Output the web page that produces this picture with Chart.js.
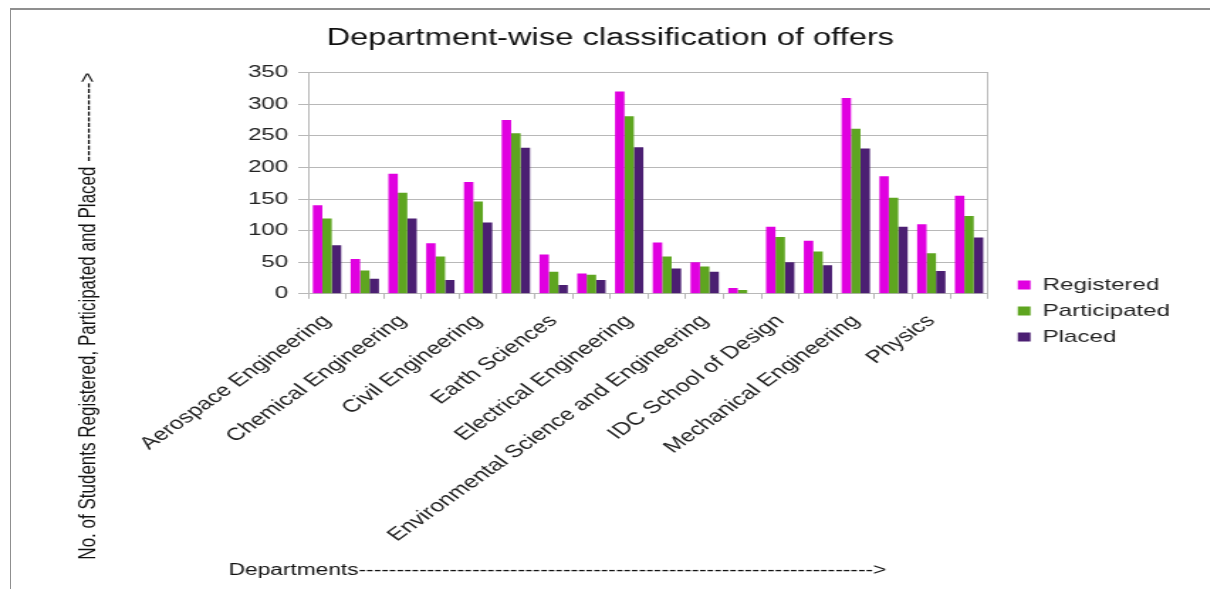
<!DOCTYPE html>
<html>
<head>
<meta charset="utf-8">
<title>Department-wise classification of offers</title>
<script src="https://cdn.jsdelivr.net/npm/chart.js@4.4.1/dist/chart.umd.min.js"></script>
<style>
  html, body { margin: 0; padding: 0; background: #fff; overflow: hidden; }
  #wrap { position: relative; width: 1210px; height: 589px; }
  /* the reference is a horizontally stretched screenshot, so the canvas is stretched too */
  #chart { position: absolute; left: 0; top: 0; transform: scaleX(1.42); transform-origin: 0 0; }
  #frame { position: absolute; left: 10px; top: 8px; right: 0; bottom: 0;
           border-top: 2px solid #8f8f8f; border-left: 1px solid #8f8f8f; pointer-events: none; }
</style>
</head>
<body>
<div id="wrap">
  <canvas id="chart" width="852" height="589"></canvas>
  <div id="frame"></div>
</div>
<script>
// data
const departments = [
  'Aerospace Engineering',
  'Biosciences and Bioengineering',
  'Chemical Engineering',
  'Chemistry',
  'Civil Engineering',
  'Computer Science and Engineering',
  'Earth Sciences',
  'Educational Technology',
  'Electrical Engineering',
  'Energy Science and Engineering',
  'Environmental Science and Engineering',
  'Humanities and Social Sciences',
  'IDC School of Design',
  'Industrial Engineering and Operations Research',
  'Mechanical Engineering',
  'Metallurgical Engineering and Materials Science',
  'Physics',
  'Systems and Control Engineering'
];
const registered   = [140, 55, 190, 80, 177, 275, 62, 32, 320, 81, 50, 9, 106, 84, 310, 186, 110, 155];
const participated = [119, 37, 160, 59, 146, 254, 35, 30, 281, 59, 43, 6, 90, 67, 261, 152, 64, 123];
const placed       = [77, 24, 119, 22, 113, 231, 14, 22, 232, 40, 35, 0, 50, 45, 230, 106, 36, 89];
const yTickValues  = [0, 50, 100, 150, 200, 250, 300, 350];

const chartTitle = '    Department-wise classification of offers';
const xTitle = 'Departments' + '-'.repeat(68) + '>' + ' '.repeat(11);
const yTitle = 'No. of Students Registered, Participated and Placed ' + '-'.repeat(14) + '>';

const gridGray = '#b8b8b8';

Chart.defaults.font.family = '"Liberation Sans", Arial, sans-serif';
Chart.defaults.color = '#222';

const ctx = document.getElementById('chart').getContext('2d');
new Chart(ctx, {
  type: 'bar',
  data: {
    labels: departments,
    datasets: [
      { label: 'Registered', data: registered, backgroundColor: '#e000e0' },
      { label: 'Participated', data: participated, backgroundColor: '#5ea520' },
      { label: 'Placed', data: placed, backgroundColor: '#4b1f72' }
    ]
  },
  options: {
    responsive: false,
    animation: false,
    devicePixelRatio: 1,
    categoryPercentage: 0.75,
    barPercentage: 1.0,
    layout: { padding: { top: 33, right: 18, bottom: 0, left: 0 } },
    plugins: {
      title: {
        display: true,
        text: chartTitle,
        color: '#111',
        font: { size: 23, weight: 'normal' },
        padding: { top: -8, bottom: 20 }
      },
      subtitle: {
        display: true,
        position: 'bottom',
        text: xTitle,
        color: '#111',
        font: { size: 16 },
        padding: { top: 12, bottom: 9 }
      },
      legend: {
        position: 'right',
        labels: {
          boxWidth: 9,
          boxHeight: 9,
          padding: 9,
          color: '#222',
          font: { size: 17 }
        }
      },
      tooltip: { enabled: false }
    },
    scales: {
      x: {
        afterFit: (scale) => { scale.height = 255; },
        grid: {
          drawOnChartArea: false,
          tickLength: 5,
          color: gridGray,
          tickColor: gridGray
        },
        border: { color: gridGray },
        ticks: {
          autoSkip: false,
          minRotation: 45,
          maxRotation: 45,
          padding: 12,
          font: { size: 17.5 },
          callback: function (value, index) {
            return index % 2 === 0 ? this.getLabelForValue(value) : '';
          }
        }
      },
      y: {
        min: 0,
        max: 350,
        afterBuildTicks: (scale) => { scale.ticks = yTickValues.map(v => ({ value: v })); },
        afterFit: (scale) => { scale.width = 217; },
        grid: { color: gridGray, tickLength: 7, tickColor: gridGray },
        border: { color: gridGray },
        ticks: { padding: 7, font: { size: 17 } },
        title: {
          display: true,
          text: yTitle,
          align: 'end',
          color: '#111',
          font: { size: 17 },
          padding: { top: 52, bottom: 0 }
        }
      },
      y2: {
        position: 'right',
        afterFit: (scale) => { scale.width = 12; },
        grid: { drawOnChartArea: false, drawTicks: false },
        border: { color: gridGray },
        ticks: { display: false }
      }
    }
  }
});
</script>
</body>
</html>
